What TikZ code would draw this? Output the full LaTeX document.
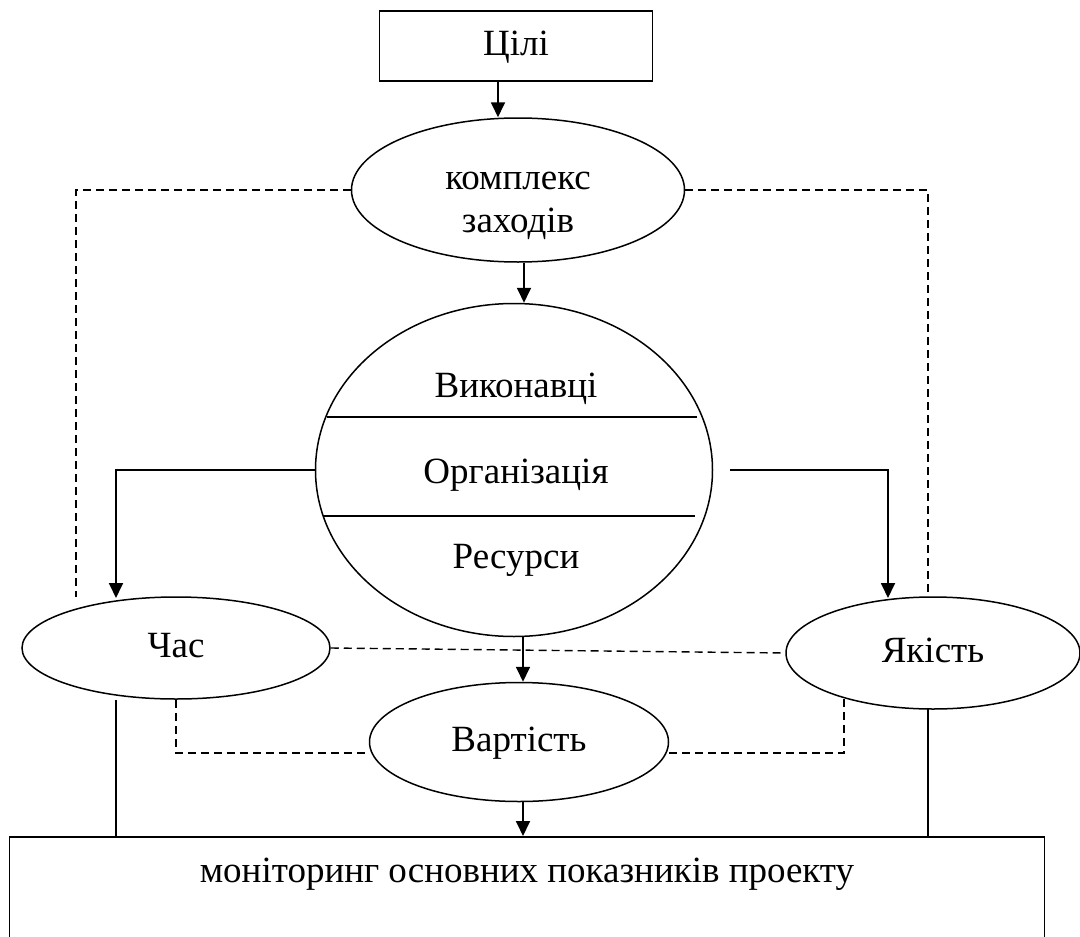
\documentclass[tikz,border=0pt]{standalone}
\usepackage{fontspec}
\setmainfont{Liberation Serif}
\usetikzlibrary{positioning}
\usetikzlibrary{arrows.meta}
\usetikzlibrary{shapes.geometric}
\tikzset{
  box/.style={draw, line width=1.5pt, rectangle, inner sep=0pt},
  oval/.style={draw, line width=1.5pt, ellipse, inner sep=0pt},
  word/.style={text height=26pt, text depth=8pt},
  arr/.style={line width=1.8pt, -{Triangle[length=15pt, width=14pt]}},
  link/.style={line width=1.5pt},
  dashlink/.style={line width=1.4pt, dash pattern=on 8pt off 5pt}
}

\begin{document}
\begin{tikzpicture}[x=1pt, y=-1pt, font=\fontsize{37}{43}\selectfont]
    \useasboundingbox (0,0) rectangle (1080,937);
    \clip (0,0) rectangle (1080,937);

    \node[box, word, minimum width=273pt, minimum height=70pt] (goals) at (516,46) {Цілі};
    \node[oval, minimum width=333pt, minimum height=144pt, align=center] (measures) at (518,190) {\rule{0pt}{50pt}комплекс\\заходів\rule[-8pt]{0pt}{8pt}};
    \node[oval, minimum width=397pt, minimum height=333pt] (core) at (514,470) {};
    \node[word] (staff) at (516,388) {Виконавці};
    \node[word] (org) at (516,474) {Організація};
    \node[word] (res) at (516,559) {Ресурси};
    \node[oval, word, minimum width=308pt, minimum height=102pt] (time) at (176,648) {Час};
    \node[oval, word, minimum width=294pt, minimum height=112pt] (quality) at (933,653) {Якість};
    \node[oval, word, minimum width=299pt, minimum height=119pt] (cost) at (519,742) {Вартість};
    \node[box, word, text depth=120pt, inner ysep=20pt, minimum width=1035pt, anchor=north] (monitor) at (527,836) {моніторинг основних показників проекту};

    \draw[link] (327,417) -- (697,417);
    \draw[link] (323,516) -- (695,516);

    \coordinate (lt) at (76,597);
    \coordinate (rt) at (928,597);
    \coordinate (la) at (116,598);
    \coordinate (ra) at (888,598);
    \coordinate (rs) at ([xshift=17pt]core.east);
    \coordinate (mc) at ([xshift=6pt]measures.south);
    \coordinate (cs) at ([xshift=9pt]core.south);
    \coordinate (cd) at ([xshift=4pt]cost.south);
    \coordinate (qd) at (844,698);
    \coordinate (tb) at (116,700);
    \coordinate (qb) at (928,709);

    \draw[arr] ([xshift=-18pt]goals.south) -- ([xshift=-20pt]measures.north);
    \draw[arr] (mc) -- (mc |- core.north);
    \draw[dashlink] (measures.west) -| (lt);
    \draw[dashlink] (measures.east) -| (rt);
    \draw[arr] (core.west) -| (la);
    \draw[arr] (rs) -| (ra);
    \draw[dashlink] (time.east) -- (quality.west);
    \draw[arr] (cs) -- (cs |- cost.north);
    \draw[dashlink] (time.south) |- ([yshift=-11pt]cost.west);
    \draw[dashlink] ([yshift=-11pt]cost.east) -| (qd);
    \draw[arr] (cd) -- (cd |- monitor.north);
    \draw[link] (tb) -- (tb |- monitor.north);
    \draw[link] (qb) -- (qb |- monitor.north);
\end{tikzpicture}
\end{document}
